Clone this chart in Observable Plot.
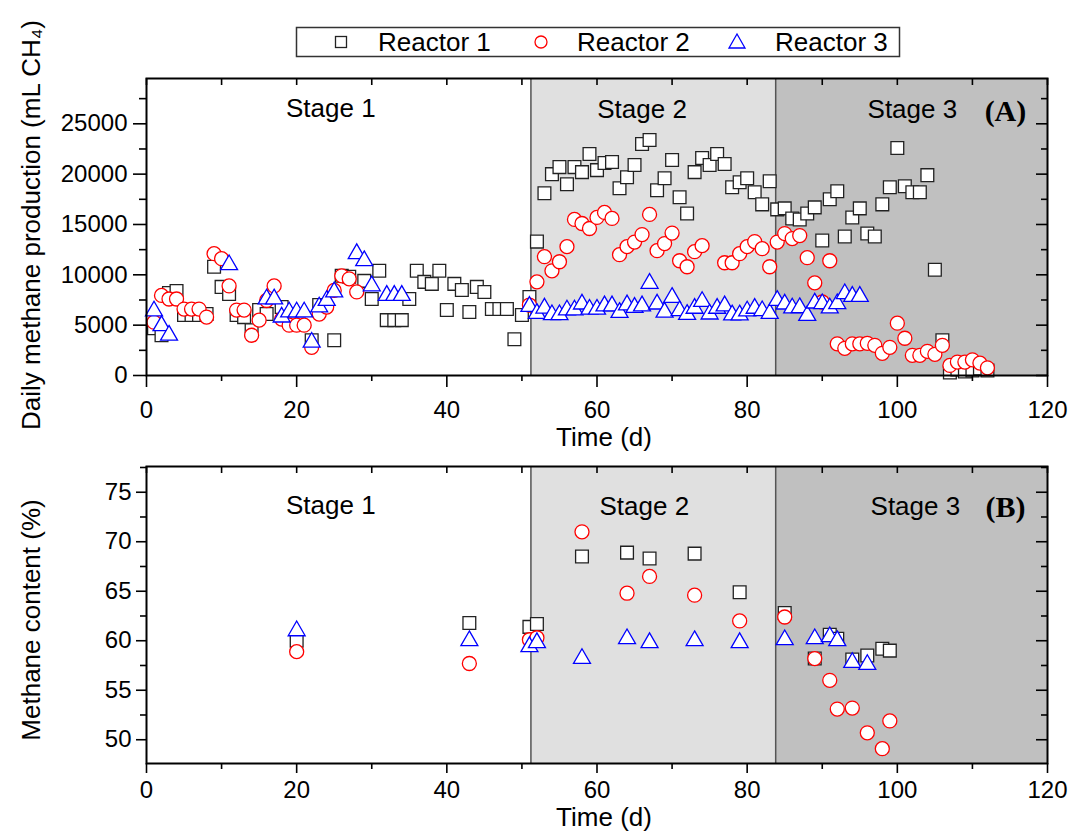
<!DOCTYPE html>
<html>
<head>
<meta charset="utf-8">
<script src="https://cdn.jsdelivr.net/npm/d3@7"></script>
<script src="https://cdn.jsdelivr.net/npm/@observablehq/plot@0.6"></script>
<style>
  html, body { margin: 0; padding: 0; background: white; }
  #wrap { position: relative; width: 1072px; height: 832px; overflow: hidden; font-family: "Liberation Sans", Arial, sans-serif; }
  #top, #bot, #legend { position: absolute; left: 0; }
  #top { top: 0; }
  #bot { top: 450px; }
  #legend { top: 0; z-index: 5; }
</style>
</head>
<body>
<div id="wrap">
  <div id="top"></div>
  <div id="bot"></div>
  <svg id="legend" width="1072" height="70"></svg>
</div>
<script>
// ---------- data ----------
const seriesNames = ["Reactor 1", "Reactor 2", "Reactor 3"];
const stageNames = ["Stage 1", "Stage 2", "Stage 3"];
const stageBounds = [51.2, 83.8];

const xDomain = [0, 120];
const xMajor = [0, 20, 40, 60, 80, 100, 120];
const xMinor = [10, 30, 50, 70, 90, 110];

const dailyDomain = [0, 29500];
const dailyMajor = [0, 5000, 10000, 15000, 20000, 25000];
const dailyMinor = [2500, 7500, 12500, 17500, 22500, 27500];

const contentDomain = [47.6, 77.6];
const contentMajor = [50, 55, 60, 65, 70, 75];
const contentMinor = [52.5, 57.5, 62.5, 67.5, 72.5, 77.5];

// Daily methane production (mL CH4): [day, value]
const reactor1Daily = [
  [1,4700],[2,4000],[3,8200],[4,8400],[5,6000],[6,6000],[7,6000],[8,6100],[9,10800],[10,8800],
  [11,8100],[12,6000],[13,5800],[14,4500],[15,6500],[16,6100],[18,6800],[22,3500],[23,7000],
  [25,3500],[26,9900],[27,9800],[29,9400],[30,7600],[31,10400],[32,5500],[33,5500],[34,5500],
  [35,7600],[36,10400],[37,9300],[38,9100],[39,10400],[40,6500],[41,9100],[42,8500],[43,6300],
  [44,8800],[45,8300],[46,6600],[47,6600],[48,6600],[49,3600],[50,6000],[51,7800],
  [52,13300],[53,18100],[54,20000],[55,20700],[56,19000],[57,20700],[58,20200],[59,22000],
  [60,20400],[61,21100],[62,21200],[63,18600],[64,19700],[65,20900],[66,23000],[67,23400],
  [68,18400],[69,19600],[70,21400],[71,17700],[72,16100],[73,20200],[74,21600],[75,20900],
  [76,22000],[77,21000],[78,18700],[79,19200],[80,19600],[81,18200],[82,17000],[83,19300],
  [84,16500],[85,16600],[86,15600],[87,15500],[88,16100],[89,16700],[90,13400],[91,17500],
  [92,18300],[93,13800],[94,15700],[95,16600],[96,14100],[97,13800],[98,17000],[99,18700],
  [100,22600],[101,18800],[102,18200],[103,18200],[104,19900],[105,10500],[106,3500],
  [107,300],[108,600],[109,400],[110,500],[111,700],[112,500]
];
const reactor2Daily = [
  [1,5300],[2,7950],[3,7600],[4,7600],[5,6600],[6,6600],[7,6600],[8,5800],[9,12100],[10,11600],
  [11,8900],[12,6500],[13,6500],[14,4000],[15,5500],[16,7450],[17,8900],[18,5600],[19,5000],
  [20,5000],[21,5000],[22,2800],[23,6100],[24,6800],[25,8450],[26,9900],[27,9600],[28,8300],
  [51,7000],[52,9300],[53,11800],[54,10400],[55,11300],[56,12800],[57,15500],[58,15100],
  [59,14600],[60,15700],[61,16200],[62,15600],[63,12000],[64,12800],[65,13250],[66,14000],
  [67,16000],[68,12400],[69,13100],[70,14150],[71,11400],[72,10800],[73,12300],[74,12900],
  [77,11200],[78,11200],[79,12100],[80,12800],[81,13300],[82,12600],[83,10800],[84,13250],
  [85,14100],[86,13600],[87,13900],[88,11700],[89,9200],[90,7300],[91,11400],[92,3150],
  [93,2700],[94,3150],[95,3150],[96,3200],[97,3000],[98,2200],[99,2800],[100,5200],[101,3700],
  [102,2000],[103,2000],[104,2400],[105,2100],[106,3000],[107,1000],[108,1330],[109,1330],
  [110,1560],[111,1230],[112,760]
];
const reactor3Daily = [
  [1,6400],[2,4950],[3,4000],[11,11000],[16,7600],[17,7600],[18,5800],[19,6300],[20,6300],
  [21,6300],[22,3300],[23,6800],[24,7450],[25,8300],[28,12100],[29,11400],[30,8900],[32,7950],
  [33,7950],[34,7950],
  [51,6860],[52,6160],[53,6690],[54,6030],[55,6030],[56,6500],[57,6500],[58,7090],[59,6580],
  [60,6580],[61,6910],[62,6910],[63,6260],[64,7010],[65,6760],[66,6910],[67,9150],[68,7090],
  [69,6290],[70,7750],[71,6430],[72,6060],[73,6670],[74,7350],[75,6100],[76,6670],[77,6910],
  [78,6010],[79,6010],[80,6400],[81,6670],[82,6430],[83,6160],[84,7450],[85,7090],[86,6700],
  [87,6730],[88,5960],[89,7190],[90,7120],[91,6700],[92,7120],[93,8120],[94,7850],[95,7850]
];

// Methane content (%): [day, value]
const reactor1Content = [[20,60.0],[43,61.8],[51,61.4],[52,61.7],[58,68.5],[64,68.9],[67,68.3],[73,68.8],[79,64.9],[85,62.8],[89,58.2],[91,60.6],[92,60.2],[94,58.1],[96,58.5],[98,59.2],[99,59.0]];
const reactor2Content = [[20,58.9],[43,57.7],[51,60.1],[52,60.3],[58,71.0],[64,64.8],[67,66.5],[73,64.6],[79,62.0],[85,62.4],[89,58.2],[91,56.0],[92,53.1],[94,53.2],[96,50.7],[98,49.1],[99,51.9]];
const reactor3Content = [[20,61.0],[43,60.0],[51,59.4],[52,59.8],[58,58.2],[64,60.2],[67,59.8],[73,60.0],[79,59.8],[85,60.1],[89,60.2],[91,60.4],[92,60.0],[94,57.8],[96,57.6]];

// ---------- styling / layout ----------
const FONT = "Liberation Sans, Arial, sans-serif";
const styles = [
  {symbol: "square", r: 7.2, stroke: "#222"},
  {symbol: "circle", r: 7, stroke: "#ff0000"},
  {symbol: "triangle", r: 6.3, stroke: "#0000ff"}
];
const stageFills = ["#e0e0e0", "#c0c0c0"];
const W = 1072, ML = 146, MR = 25, FW = W - ML - MR, FH = 297;

function panel(cfg) {
  const rects = [
    {x1: stageBounds[0], x2: stageBounds[1], fill: stageFills[0]},
    {x1: stageBounds[1], x2: xDomain[1], fill: stageFills[1]}
  ];
  const labels = stageNames.map((s, i) => ({text: s, x: cfg.stageX[i], y: cfg.stageY[i]}));
  const marks = [
    Plot.rect(rects, {x1: "x1", x2: "x2", y1: cfg.yDomain[0], y2: cfg.yDomain[1], fill: "fill"}),
    Plot.ruleX(stageBounds, {x: d => d, stroke: "#555", strokeWidth: 1.5}),
    ...cfg.series.map((data, i) => Plot.dot(data, {
      x: d => d[0], y: d => d[1], symbol: styles[i].symbol, r: styles[i].r,
      stroke: styles[i].stroke, fill: "white", strokeWidth: 1.3
    })),
    Plot.text(labels, {x: "x", y: "y", text: "text", fontSize: 26, fontFamily: FONT, fill: "black"}),
    Plot.text([cfg.tag], {x: cfg.tagX, y: cfg.tagY, text: d => d, fontSize: 30, fontWeight: "bold", fontFamily: "Liberation Serif, Times New Roman, serif", fill: "black"}),
    Plot.frame({stroke: "black", strokeWidth: 2}),
    // left axis (outward) with labels
    Plot.axisY(cfg.yMajor, {anchor: "left", tickSize: cfg.yTick, tickPadding: cfg.yPad, tickFormat: cfg.yFormat, fontSize: 24, fontFamily: FONT, label: null, strokeWidth: 1.6}),
    Plot.tickY(cfg.yMinor, {y: d => d, insetLeft: -cfg.yTickMinor, insetRight: FW, strokeWidth: 1.6}),
    // right inward ticks
    Plot.tickY(cfg.yMajor, {y: d => d, insetLeft: FW - 11, strokeWidth: 1.6}),
    Plot.tickY(cfg.yMinor, {y: d => d, insetLeft: FW - 6, strokeWidth: 1.6}),
    // bottom axis (outward) with labels
    Plot.axisX(xMajor, {anchor: "bottom", tickSize: cfg.xTick, tickPadding: cfg.xPad, fontSize: 24, fontFamily: FONT, label: null, strokeWidth: 1.6}),
    Plot.tickX(xMinor, {x: d => d, insetTop: FH, insetBottom: -cfg.xTickMinor, strokeWidth: 1.6}),
    // top inward ticks
    Plot.tickX(xMajor.concat(xMinor), {x: d => d, insetBottom: FH - 7, strokeWidth: 1.6}),
    // axis titles
    Plot.text([cfg.yTitle], {frameAnchor: "left", dx: -115, dy: cfg.yTitleDy, rotate: -90, textAnchor: "middle", lineAnchor: "middle", text: d => d, fontSize: 26, fontFamily: FONT, fill: "black"}),
    Plot.text(["Time (d)"], {frameAnchor: "bottom", dx: 7, dy: cfg.xTitleDy, textAnchor: "middle", lineAnchor: "middle", text: d => d, fontSize: 26, fontFamily: FONT, fill: "black"})
  ];
  return Plot.plot({
    width: W, height: cfg.height,
    marginLeft: ML, marginRight: MR, marginTop: cfg.marginTop, marginBottom: cfg.marginBottom,
    x: {domain: xDomain},
    y: {domain: cfg.yDomain},
    style: {fontFamily: FONT, fontSize: "24px", color: "black", background: "transparent", overflow: "visible"},
    marks
  });
}

const topChart = panel({
  series: [reactor1Daily, reactor2Daily, reactor3Daily],
  yDomain: dailyDomain, yMajor: dailyMajor, yMinor: dailyMinor, yFormat: d3.format("d"),
  height: 450, marginTop: 78, marginBottom: 75,
  yTick: 13, yTickMinor: 7, yPad: 6, xTick: 12, xTickMinor: 6, xPad: 13,
  yTitle: "Daily methane production (mL CH\u2084)", yTitleDy: -2, xTitleDy: 62,
  stageX: [24.55, 66.0, 102.0], stageY: [26500, 26400, 26400],
  tag: "(A)", tagX: 114.4, tagY: 26200
});
document.getElementById("top").appendChild(topChart);

const botChart = panel({
  series: [reactor1Content, reactor2Content, reactor3Content],
  yDomain: contentDomain, yMajor: contentMajor, yMinor: contentMinor, yFormat: d3.format("d"),
  height: 382, marginTop: 16, marginBottom: 69,
  yTick: 10, yTickMinor: 6, yPad: 5, xTick: 10, xTickMinor: 6, xPad: 7,
  yTitle: "Methane content (%)", yTitleDy: 5, xTitleDy: 54,
  stageX: [24.55, 66.3, 102.4], stageY: [73.65, 73.5, 73.5],
  tag: "(B)", tagX: 114.4, tagY: 73.5
});
document.getElementById("bot").appendChild(botChart);

// ---------- legend ----------
const lg = d3.select("#legend");
lg.append("rect").attr("x", 296.5).attr("y", 27.5).attr("width", 603).attr("height", 29)
  .attr("fill", "white").attr("stroke", "#333").attr("stroke-width", 1.5);
const legendSym = [341, 541, 737], legendTxt = [378, 577, 775], cy = 42;
lg.append("rect").attr("x", legendSym[0] - 5.5).attr("y", cy - 5.5).attr("width", 11).attr("height", 11)
  .attr("fill", "white").attr("stroke", styles[0].stroke).attr("stroke-width", 1.3);
lg.append("circle").attr("cx", legendSym[1]).attr("cy", cy).attr("r", 6)
  .attr("fill", "white").attr("stroke", styles[1].stroke).attr("stroke-width", 1.3);
lg.append("path").attr("d", `M${legendSym[2]},${cy - 8}L${legendSym[2] - 8},${cy + 6}L${legendSym[2] + 8},${cy + 6}Z`)
  .attr("fill", "white").attr("stroke", styles[2].stroke).attr("stroke-width", 1.3);
seriesNames.forEach((s, i) => {
  lg.append("text").attr("x", legendTxt[i]).attr("y", cy + 9).attr("font-size", 26)
    .attr("font-family", FONT).attr("fill", "black").text(s);
});
</script>
</body>
</html>
